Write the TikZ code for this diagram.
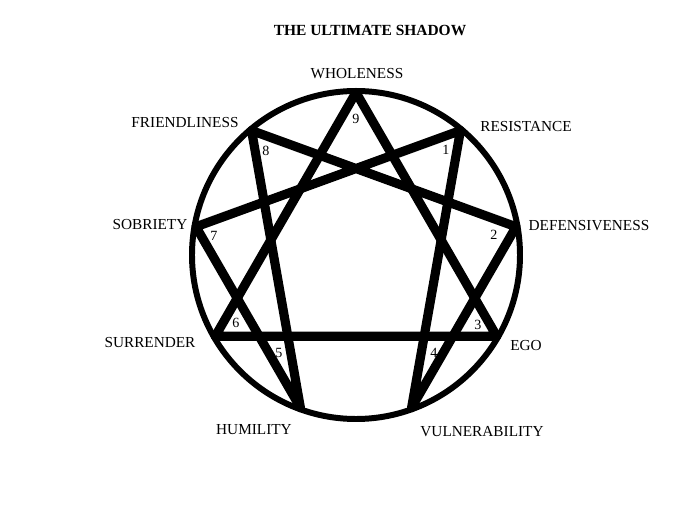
\documentclass[tikz,border=0pt]{standalone}
\usepackage{fontspec}
\setmainfont{Liberation Serif}
\tikzset{
  ring/.style={line width=3.4pt},
  star/.style={line width=5.2pt, line join=round},
  word/.style={font=\fontsize{8.7}{10}\selectfont},
  num/.style={font=\fontsize{8}{9}\selectfont}
}
\begin{document}
\begin{tikzpicture}
\useasboundingbox (-7.12,-5.24) rectangle (6.88,5.10);
% circle and the nine points
\draw[ring] (0,0) circle (3.28);
\foreach \i in {1,...,9}
  \coordinate (p\i) at ({90-40*\i}:3.25);
% triangle 9-3-6
\draw[star] (p9)--(p3)--(p6)--cycle;
% hexad 1-4-2-8-5-7
\draw[star] (p1)--(p4)--(p2)--(p8)--(p5)--(p7)--cycle;
% numbers
\node[num] (n9) at (0,2.72) {9};
\node[num] (n1) at (1.80,2.10) {1};
\node[num] (n2) at (2.76,0.40) {2};
\node[num] (n3) at (2.44,-1.40) {3};
\node[num] (n4) at (1.56,-1.96) {4};
\node[num] (n5) at (-1.54,-1.96) {5};
\node[num] (n6) at (-2.40,-1.36) {6};
\node[num] (n7) at (-2.84,0.38) {7};
\node[num] (n8) at (-1.80,2.08) {8};
% words
\node[font=\bfseries\fontsize{8.8}{10}\selectfont] (title) at (0.28,4.48) {THE ULTIMATE SHADOW};
\node[word] (whole) at (0.02,3.62) {WHOLENESS};
\node[word] (resist) at (3.40,2.56) {RESISTANCE};
\node[word] (defens) at (4.66,0.58) {DEFENSIVENESS};
\node[word] (ego) at (3.40,-1.82) {EGO};
\node[word] (vulner) at (2.52,-3.54) {VULNERABILITY};
\node[word] (humil) at (-2.04,-3.50) {HUMILITY};
\node[word] (surr) at (-4.12,-1.76) {SURRENDER};
\node[word] (sobr) at (-4.12,0.60) {SOBRIETY};
\node[word] (friend) at (-3.42,2.64) {FRIENDLINESS};
\end{tikzpicture}
\end{document}
